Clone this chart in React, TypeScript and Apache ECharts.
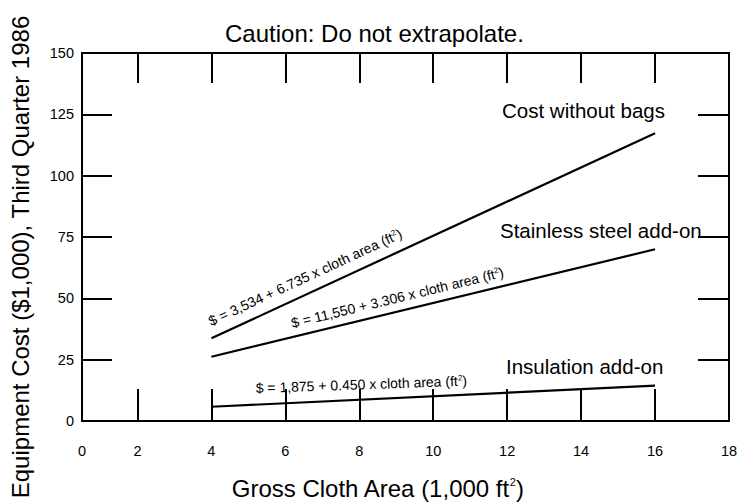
import React, { useEffect, useRef } from "react";
import * as echarts from "echarts";

const xTickValues = [2, 4, 6, 8, 10, 12, 14, 16];
const xLabelValues = [0.5, 2, 4, 6, 8, 10, 12, 14, 16, 18];
const yTickValues = [25, 50, 75, 100, 125];
const costWithoutBags = [[4, 33.7], [16, 117.3]];
const stainlessAddOn = [[4, 26.2], [16, 70.0]];
const insulationAddOn = [[4, 5.8], [16, 14.4]];

const FONT = "Liberation Sans, Arial, sans-serif";

export default function App() {
  const ref = useRef<HTMLDivElement>(null);
  useEffect(() => {
    const chart = echarts.init(ref.current!, null, { renderer: "svg" });
    const axisLine = { show: true, onZero: false, lineStyle: { color: "#000", width: 2 } };
    const lineSeries = (name: string, data: number[][]) => ({
      name,
      type: "line",
      data,
      symbol: "none",
      lineStyle: { color: "#000", width: 2.2 },
      silent: true,
    });
    const eqRich = {
      s: { fontSize: 8, fontFamily: FONT, verticalAlign: "top", lineHeight: 10, padding: [0, 0, 6, 0] },
    };
    chart.setOption({
      animation: false,
      backgroundColor: "#fff",
      title: {
        text: "Caution: Do not extrapolate.",
        left: 220,
        top: 16,
        textStyle: { fontFamily: FONT, fontSize: 24, fontWeight: "normal", color: "#000" },
      },
      grid: { left: 82, top: 53, right: 8, bottom: 82, containLabel: false, outerBoundsMode: "none" },
      xAxis: [
        {
          type: "value",
          position: "bottom",
          min: 0.5,
          max: 18,
          axisLine,
          splitLine: { show: false },
          axisTick: { show: true, inside: true, length: 32, customValues: xTickValues, lineStyle: { color: "#000", width: 2 } },
          axisLabel: {
            show: true,
            customValues: xLabelValues,
            margin: 22,
            fontFamily: FONT,
            fontSize: 14.5,
            color: "#000",
            formatter: (v: number) => (v < 1 ? "0" : String(v)),
          },
          name: "Gross Cloth Area (1,000 ft{s|2})",
          nameLocation: "middle",
          nameGap: 55,
          nameTextStyle: {
            fontFamily: FONT,
            fontSize: 24,
            color: "#000",
            padding: [0, 56, 0, 0],
            rich: { s: { fontSize: 11, fontFamily: FONT, verticalAlign: "top", padding: [0, 0, 11, 0] } },
          },
        },
        {
          type: "value",
          position: "top",
          min: 0.5,
          max: 18,
          axisLine,
          splitLine: { show: false },
          axisTick: { show: true, inside: true, length: 30, customValues: xTickValues, lineStyle: { color: "#000", width: 2 } },
          axisLabel: { show: false },
        },
      ],
      yAxis: [
        {
          type: "value",
          position: "left",
          min: 0,
          max: 150,
          interval: 25,
          axisLine,
          splitLine: { show: false },
          axisTick: { show: true, inside: true, length: 30, customValues: yTickValues, lineStyle: { color: "#000", width: 2 } },
          axisLabel: { show: true, margin: 8, fontFamily: FONT, fontSize: 14.5, color: "#000" },
          name: "Equipment Cost ($1,000), Third Quarter 1986",
          nameLocation: "middle",
          nameGap: 50,
          nameRotate: 90,
          nameTextStyle: { fontFamily: FONT, fontSize: 24, color: "#000", padding: [0, 40, 0, 0] },
        },
        {
          type: "value",
          position: "right",
          min: 0,
          max: 150,
          interval: 25,
          axisLine,
          splitLine: { show: false },
          axisTick: { show: true, inside: true, length: 31, customValues: yTickValues, lineStyle: { color: "#000", width: 2 } },
          axisLabel: { show: false },
        },
      ],
      series: [
        lineSeries("Cost without bags", costWithoutBags),
        lineSeries("Stainless steel add-on", stainlessAddOn),
        lineSeries("Insulation add-on", insulationAddOn),
      ],
      graphic: [
        { type: "text", left: 502, top: 100, style: { text: "Cost without bags", font: `20.5px ${FONT}`, fill: "#000" } },
        { type: "text", left: 500, top: 220, style: { text: "Stainless steel add-on", font: `20.5px ${FONT}`, fill: "#000" } },
        { type: "text", left: 506, top: 356, style: { text: "Insulation add-on", font: `20.5px ${FONT}`, fill: "#000" } },
        {
          type: "text",
          x: 212,
          y: 328,
          rotation: 0.433,
          style: {
            text: "$ = 3,534 + 6.735 x cloth area (ft{s|2})",
            fontFamily: FONT,
            fontSize: 14,
            fill: "#000",
            verticalAlign: "bottom",
            rich: eqRich,
          },
        },
        {
          type: "text",
          x: 293,
          y: 330,
          rotation: 0.237,
          style: {
            text: "$ = 11,550 + 3.306 x cloth area (ft{s|2})",
            fontFamily: FONT,
            fontSize: 14,
            fill: "#000",
            verticalAlign: "bottom",
            rich: eqRich,
          },
        },
        {
          type: "text",
          x: 256,
          y: 395,
          rotation: 0.035,
          style: {
            text: "$ = 1,875 + 0.450 x cloth area (ft{s|2})",
            fontFamily: FONT,
            fontSize: 14,
            fill: "#000",
            verticalAlign: "bottom",
            rich: eqRich,
          },
        },
      ],
    });
    return () => chart.dispose();
  }, []);
  return <div ref={ref} style={{ position: "fixed", left: 0, top: 0, width: 737, height: 503 }} />;
}
